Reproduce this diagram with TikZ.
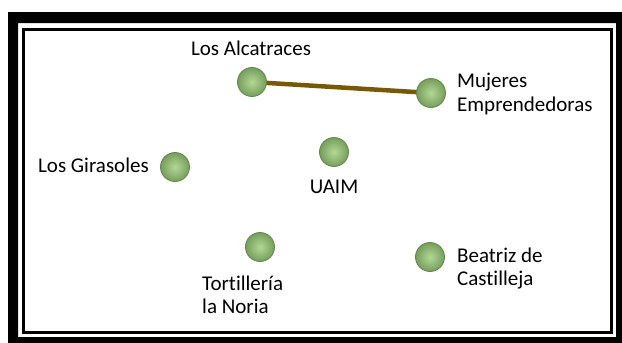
\documentclass[tikz,border=0pt]{standalone}
\usepackage{fontspec}
\setmainfont{Carlito}[Ligatures=NoCommon]
\usetikzlibrary{backgrounds}
\begin{document}
\begin{tikzpicture}[x=1pt,y=-1pt,
  dot/.style={circle,minimum size=29pt,inner sep=0pt,
    inner color={rgb,255:red,178;green,216;blue,148},
    outer color={rgb,255:red,118;green,158;blue,92},
    draw={rgb,255:red,100;green,132;blue,78},line width=0.8pt},
  lbl/.style={inner sep=0pt,font=\fontsize{21}{24}\selectfont,text=black},
  link/.style={line width=4.5pt,draw={rgb,255:red,118;green,88;blue,6}}]
\useasboundingbox (0,0) rectangle (622,343);
% nodes
\node[dot] (alc) at (252,82) {};
\node[dot] (muj) at (431,93) {};
\node[dot] (gir) at (175,167) {};
\node[dot] (uaim) at (334,152) {};
\node[dot] (tor) at (260,247) {};
\node[dot] (bea) at (430,257) {};
\begin{scope}[on background layer]
\draw[link] (alc.center) -- (muj.center);
\end{scope}
% frame
\fill[black,even odd rule] (8,12) rectangle (640,360) (18,23) rectangle (616,337);
\draw[black,line width=3pt] (23.5,29.5) rectangle (611.5,332.5);
% labels
\node[lbl,anchor=base] (alcT) at (251,55.5) {Los Alcatraces};
\node[lbl,anchor=base west] (mujT1) at (457,87) {Mujeres};
\node[lbl,anchor=base west] (mujT2) at (457,111) {Emprendedoras};
\node[lbl,anchor=base east] (girT) at (149,172) {Los Girasoles};
\node[lbl,anchor=base] (uaimT) at (334,193) {UAIM};
\node[lbl,anchor=base west] (torT1) at (202,290) {Tortillería};
\node[lbl,anchor=base west] (torT2) at (202,313) {la Noria};
\node[lbl,anchor=base west] (beaT1) at (457,262) {Beatriz de};
\node[lbl,anchor=base west] (beaT2) at (457,285) {Castilleja};
\end{tikzpicture}
\end{document}
